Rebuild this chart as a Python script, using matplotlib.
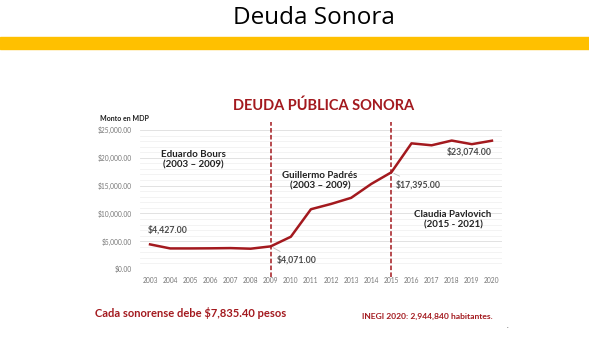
import matplotlib
matplotlib.use("Agg")
import matplotlib.pyplot as plt
from matplotlib.ticker import FuncFormatter, MultipleLocator

years = list(range(2003, 2021))
deuda = [4427, 3700, 3700, 3720, 3760, 3650, 4071, 5800, 10750, 11700, 12800,
         15300, 17395, 22600, 22250, 23100, 22450, 23074]
periods = [2009, 2015]
tick_years = years

RED = "#A3191E"
FONT = "Lato"

fig = plt.figure(figsize=(5.89, 3.6), dpi=100)
fig.patch.set_facecolor("white")

# header
fig.text(314/589, 1 - 18/360, "Deuda Sonora", ha="center", va="center",
         fontsize=17.5, family="Open Sans", color="black")
fig.patches.append(plt.Rectangle((0, 1 - 49/360), 1, 12/360, transform=fig.transFigure,
                                 color="#FFC000", zorder=0))

ax = fig.add_axes([140/589, 1 - 269/360, 362/589, 139/360])
ax.plot(years, deuda, color=RED, lw=1.8, zorder=3, clip_on=False)
ax.set_xlim(2002.5, 2020.5)
ax.set_ylim(0, 25000)
ax.yaxis.set_major_locator(MultipleLocator(5000))
ax.yaxis.set_minor_locator(MultipleLocator(1000))
ax.set_xticks(tick_years)
ax.set_xticklabels([str(y) for y in tick_years])
ax.yaxis.set_major_formatter(FuncFormatter(lambda v, p: f"${v:,.2f}"))
ax.grid(axis="y", which="major", color="#DDDDDD", lw=0.6)
ax.grid(axis="y", which="minor", color="#EEEEEE", lw=0.5)
ax.set_axisbelow(True)
for s in ax.spines.values():
    s.set_visible(False)
ax.tick_params(axis="both", which="both", length=0, labelsize=4.8, labelcolor="#777777",
               pad=6)
for lab in ax.get_xticklabels() + ax.get_yticklabels():
    lab.set_family(FONT)

for p in periods:
    ax.axvline(p, ymin=-0.06, ymax=1.06, color=RED, lw=1.1, ls=(0, (3, 1.5)),
               clip_on=False, zorder=2)

# title
fig.text(324/589, 1 - 106/360, "DEUDA PÚBLICA SONORA", ha="center", va="center",
         fontsize=10.5, fontweight="bold", color=RED, family=FONT)
fig.text(100/589, 1 - 119/360, "Monto en MDP", ha="left", va="center",
         fontsize=5, fontweight="bold", color="#222222", family=FONT)

# annotations of values
ann_kw = dict(fontsize=6.3, fontweight="bold", color="#4a4a4a", family=FONT)
ax.annotate("$4,427.00", xy=(years[0], deuda[0]), xytext=(-2, 7),
            textcoords="offset points", ha="left", va="bottom", **ann_kw)
ax.annotate("$4,071.00", xy=(2009, deuda[years.index(2009)]), xytext=(4, -10),
            textcoords="offset points", ha="left", va="center",
            arrowprops=dict(arrowstyle="-", color="#BBBBBB", lw=0.6), **ann_kw)
ax.annotate("$17,395.00", xy=(2015, deuda[years.index(2015)]), xytext=(3, -9),
            textcoords="offset points", ha="left", va="center",
            arrowprops=dict(arrowstyle="-", color="#BBBBBB", lw=0.6), **ann_kw)
ax.annotate("$23,074.00", xy=(years[-1], deuda[-1]), xytext=(0, -8),
            textcoords="offset points", ha="right", va="center", **ann_kw)

# period labels
lab_kw = dict(fontsize=7, fontweight="bold", color="#222222", family=FONT,
              ha="center", va="center", linespacing=1.2)
fig.text(193/589, 1 - 160/360, "Eduardo Bours\n(2003 – 2009)", **lab_kw)
fig.text(320/589, 1 - 181/360, "Guillermo Padrés\n(2003 – 2009)", **lab_kw)
fig.text(453/589, 1 - 220/360, "Claudia Pavlovich\n(2015 - 2021)", **lab_kw)

# footer
fig.text(95/589, 1 - 313/360, "Cada sonorense debe $7,835.40 pesos", ha="left",
         va="center", fontsize=8, fontweight="bold", color=RED, family=FONT)
fig.text(362/589, 1 - 316/360, "INEGI 2020: 2,944,840 habitantes.", ha="left",
         va="center", fontsize=6.1, fontweight="bold", color=RED, family=FONT)
fig.text(507/589, 1 - 325/360, ".", ha="center", va="center", fontsize=5,
         color="#555555", family=FONT)

fig.savefig("out.png", dpi=100, facecolor="white")
